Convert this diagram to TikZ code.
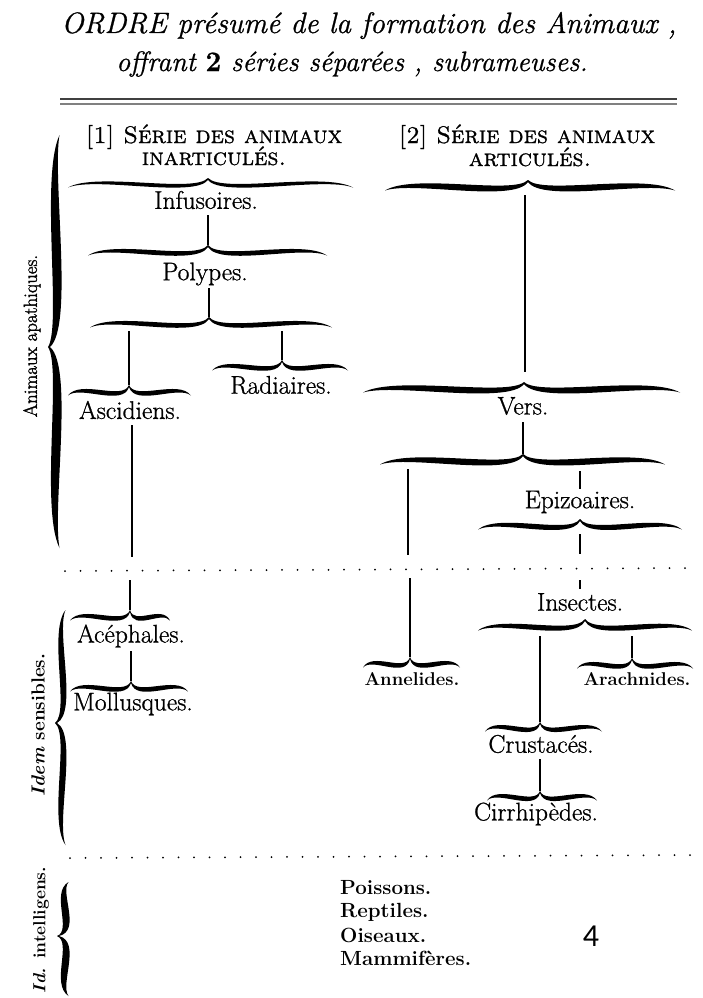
\documentclass[tikz,border=0pt]{standalone}
\usepackage{fontspec}
\newfontfamily\calib{Carlito}
\newfontfamily\labfont[FakeBold=0.9]{Latin Modern Roman}
\newfontfamily\sidefont[FakeBold=1.6]{Latin Modern Roman}
\newfontfamily\capsfont[FakeBold=0.9]{lmromancaps10-regular.otf}
\tikzset{
  pics/hbrace/.style n args={4}{code={
    \pgfmathsetmacro\brd{#3/1.5}
    \fill ({-#1},3.5) .. controls ({-0.8*#1},{-10-\brd}) and ({-0.1*#1},{12-\brd}) .. (0,{-#4})
      -- (0,{-#4+2}) .. controls ({-0.1*#1},{12+\brd}) and ({-0.8*#1},{-10+\brd}) .. ({-#1},3.5) -- cycle;
    \fill ({#2},3.5) .. controls ({0.8*#2},{-10-\brd}) and ({0.1*#2},{12-\brd}) .. (0,{-#4})
      -- (0,{-#4+2}) .. controls ({0.1*#2},{12+\brd}) and ({0.8*#2},{-10+\brd}) .. ({#2},3.5) -- cycle;
  }}
}
\begin{document}
\begin{tikzpicture}[x=1pt,y=-1pt,
  lab/.style={inner sep=0pt, font=\labfont\fontsize{25.5}{28}\selectfont},
  smalllab/.style={inner sep=0pt, font=\fontsize{18.5}{20}\selectfont\bfseries},
  boldlab/.style={inner sep=0pt, anchor=west, font=\fontsize{20.5}{22}\selectfont\bfseries},
  hdr/.style={inner sep=0pt, anchor=base, font=\capsfont\fontsize{24}{26}\selectfont},
  side/.style={inner sep=0pt, rotate=90},
  ttl/.style={inner sep=0pt, anchor=base},
  stem/.style={line width=1.5pt},
  dotline/.style={line width=2pt, line cap=round, dash pattern=on 0pt off 15.5pt}
]
\fill[white] (0,0) rectangle (702,998);
\useasboundingbox (0,0) rectangle (702,998);

% title
\node[ttl, font=\labfont\fontsize{29.5}{32}\selectfont\itshape] (title1) at (369,33) {ORDRE présumé de la formation des Animaux ,};
\node[ttl, font=\labfont\fontsize{28}{30}\selectfont\itshape] (title2) at (352,71) {offrant {\upshape\bfseries 2} séries séparées , subrameuses.};
\coordinate (rl) at (60,99); \coordinate (rr) at (677,99);
\coordinate (rl2) at (60,104); \coordinate (rr2) at (677,104);
\draw[line width=2.8pt, black!75] (rl) -- (rr);
\draw[line width=1.6pt, black!50] (rl2) -- (rr2);

% headers
\node[hdr] (h1a) at (214,143) {[1] Série des animaux};
\node[hdr] (h1b) at (214,165) {inarticulés.};
\node[hdr] (h2a) at (527,143) {[2] Série des animaux};
\node[hdr] (h2b) at (530,166) {articulés.};

% side braces and labels
\pic[rotate=90] at (56,347) {hbrace={201}{212}{9}{8}};
\node[side, font=\sidefont\fontsize{19}{22}\selectfont] (apath) at (32,336) {Animaux apathiques.};
\pic[rotate=90] at (62,723) {hbrace={122}{113}{6}{7}};
\node[side, font=\fontsize{19}{22}\selectfont\bfseries] (sensib) at (38,725) {\itshape Idem \upshape sensibles.};
\pic[rotate=90] at (65,936) {hbrace={60}{54}{7}{8}};
\node[side, font=\fontsize{17.5}{20}\selectfont\bfseries] (intell) at (41,930) {\itshape Id. \upshape intelligens.};

% dotted separators
\coordinate (d1l) at (65,571); \coordinate (d1r) at (700,568);
\draw[dotline] (d1l) -- (d1r);
\coordinate (d2l) at (70,858); \coordinate (d2r) at (700,855);
\draw[dotline] (d2l) -- (d2r);

% ---------- column 1 ----------
\pic at (208,184) {hbrace={140}{145}{3.5}{6}};
\node[lab] (infus) at (206,200) {Infusoires.};
\pic at (208,252) {hbrace={120}{119}{4.5}{7}};
\coordinate (infB) at (208,215); \coordinate (b2tip) at (208,245);
\draw[stem] (infB) -- (b2tip);
\node[lab] (polyp) at (205,274) {Polypes.};
\pic at (209,324) {hbrace={119}{123}{4.5}{7}};
\coordinate (polB) at (209,288); \coordinate (b3tip) at (209,317);
\draw[stem] (polB) -- (b3tip);
\coordinate (b3a) at (129,331); \coordinate (b3b) at (282,331);
\pic at (129,392) {hbrace={61}{62}{4.5}{7}};
\coordinate (ascTip) at (129,385);
\draw[stem] (b3a) -- (ascTip);
\pic at (282,367) {hbrace={70}{66}{4.5}{7}};
\coordinate (radTip) at (282,360);
\draw[stem] (b3b) -- (radTip);
\node[lab] (radia) at (281,385) {Radiaires.};
\node[lab] (ascid) at (130,410) {Ascidiens.};
\coordinate (ascB) at (132,425); \coordinate (ascEnd) at (132,557);
\draw[stem] (ascB) -- (ascEnd);
\coordinate (acTop) at (130,580);
\pic at (130,617) {hbrace={60}{40}{4.5}{7}};
\coordinate (acTip) at (130,610);
\draw[stem] (acTop) -- (acTip);
\node[lab] (aceph) at (131,636) {Acéphales.};
\pic at (131,688) {hbrace={61}{57}{4.5}{7}};
\coordinate (acB) at (131,651); \coordinate (moTip) at (131,681);
\draw[stem] (acB) -- (moTip);
\node[lab] (mollu) at (133,704) {Mollusques.};

% ---------- column 2 ----------
\pic at (528,187) {hbrace={143}{147}{6}{7}};
\coordinate (t2b) at (525,195); \coordinate (versTop) at (525,372);
\draw[stem] (t2b) -- (versTop);
\pic at (524,389) {hbrace={161}{156}{6}{7}};
\node[lab] (vers) at (523,406) {Vers.};
\pic at (523,461) {hbrace={143}{142}{6}{7}};
\coordinate (versB) at (523,422); \coordinate (v2Tip) at (523,454);
\draw[stem] (versB) -- (v2Tip);
\coordinate (v2a) at (408,469); \coordinate (v2aE) at (408,555);
\draw[stem] (v2a) -- (v2aE);
\coordinate (v2b) at (580,471); \coordinate (epT) at (580,489);
\draw[stem] (v2b) -- (epT);
\node[lab] (epiz) at (580,502) {Epizoaires.};
\pic at (580,526) {hbrace={102}{102}{5}{7}};
\coordinate (epB) at (580,534); \coordinate (epE) at (580,554);
\draw[stem] (epB) -- (epE);
\coordinate (inT) at (580,580); \coordinate (inT2) at (580,589);
\draw[stem] (inT) -- (inT2);
\node[lab] (insec) at (580,602) {Insectes.};
\pic at (585,627) {hbrace={107}{107}{5}{8}};
\coordinate (anT) at (410,578); \coordinate (anTip) at (410,657);
\draw[stem] (anT) -- (anTip);
\pic at (410,664) {hbrace={47}{50}{4.5}{7}};
\node[smalllab] (annel) at (412,679) {Annelides.};
\coordinate (inB) at (632,636); \coordinate (arTip) at (632,658);
\draw[stem] (inB) -- (arTip);
\pic at (632,665) {hbrace={55}{61}{4.5}{7}};
\node[smalllab] (arach) at (637,679) {Arachnides.};
\coordinate (inA) at (540,636); \coordinate (crTip) at (540,722);
\draw[stem] (inA) -- (crTip);
\pic at (540,728) {hbrace={55}{62}{4.5}{6}};
\node[lab] (crust) at (541,744) {Crustacés.};
\coordinate (crB) at (540,759); \coordinate (ciTip) at (540,791);
\draw[stem] (crB) -- (ciTip);
\pic at (540,797) {hbrace={53}{57}{4.5}{6}};
\node[lab] (cirr) at (536,814) {Cirrhipèdes.};

% ---------- bottom ----------
\node[boldlab] (poiss) at (340,888) {Poissons.};
\node[boldlab] (rept) at (340,912) {Reptiles.};
\node[boldlab] (ois) at (340,935) {Oiseaux.};
\node[boldlab] (mamm) at (340,958) {Mammifères.};
\node[inner sep=0pt, font=\calib\fontsize{32}{34}\selectfont] (pnum) at (591,936) {4};
\end{tikzpicture}
\end{document}
